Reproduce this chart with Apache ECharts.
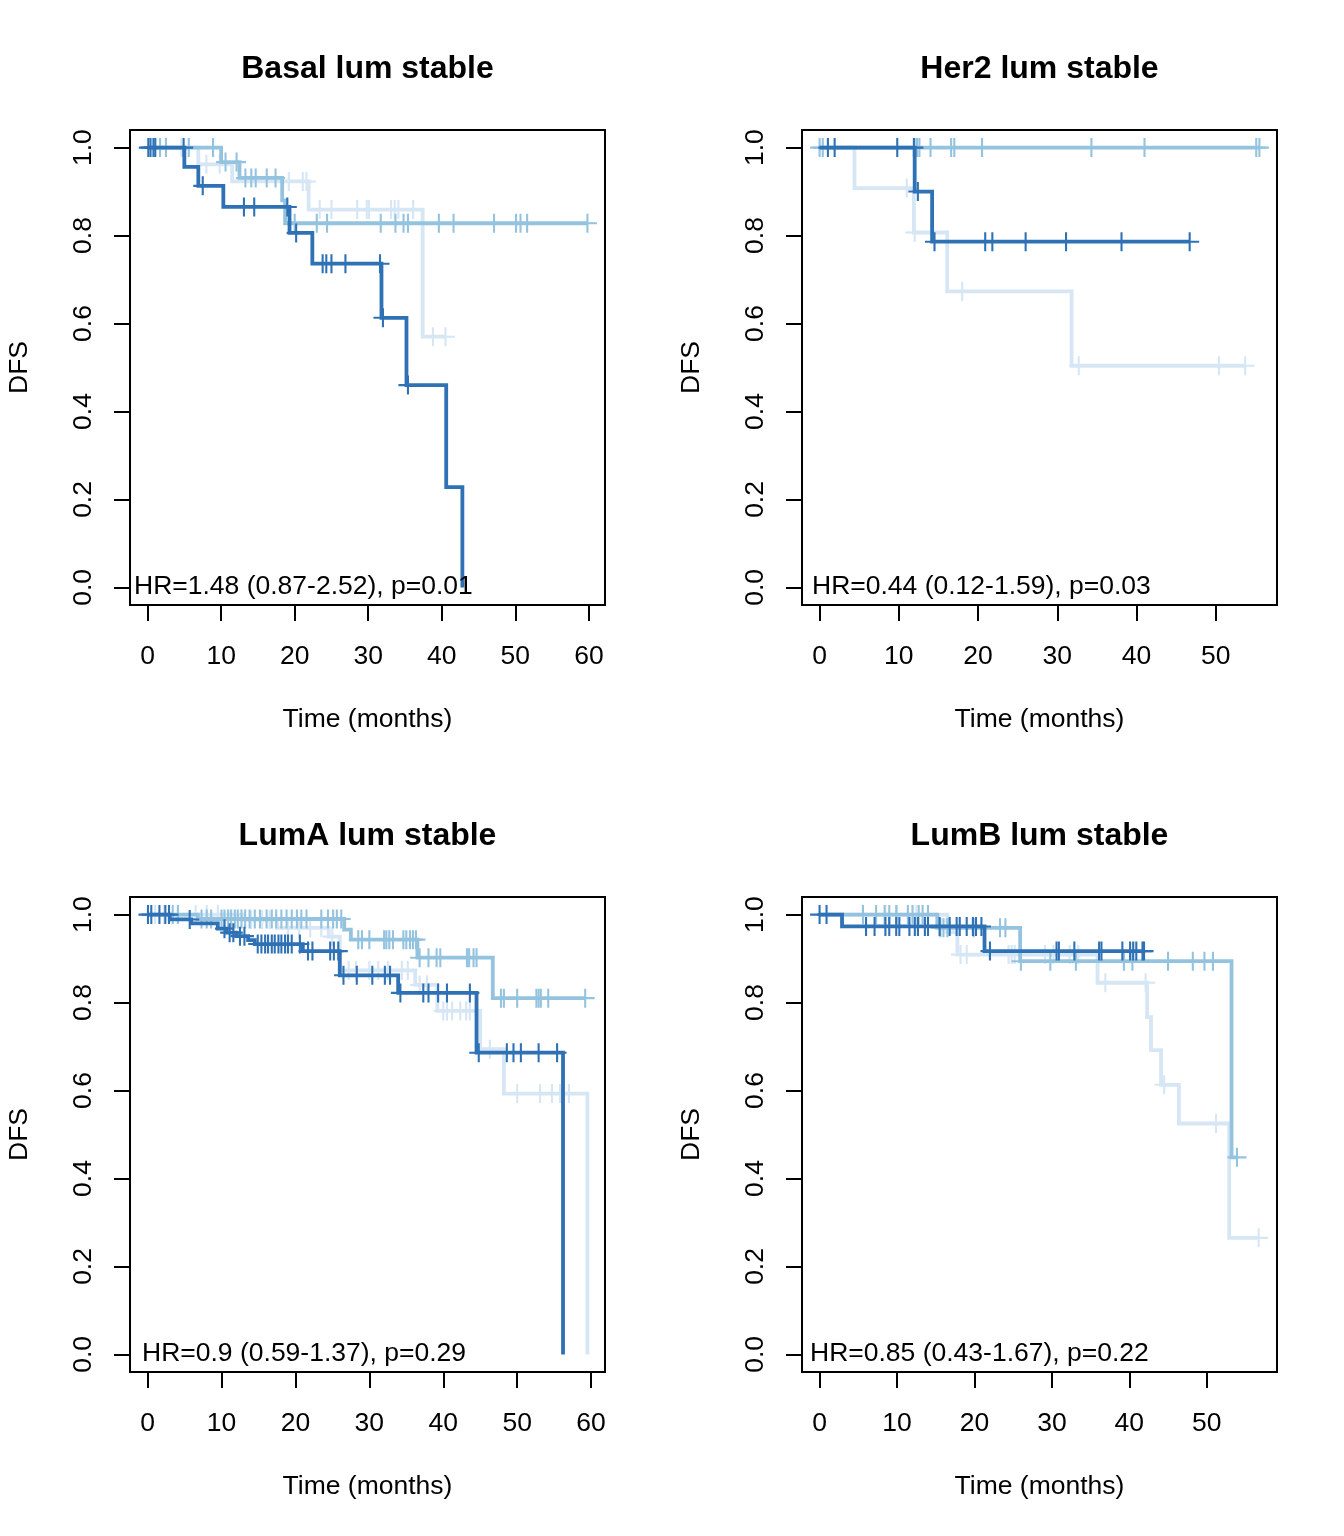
<!DOCTYPE html>
<html>
<head>
<meta charset="utf-8">
<script src="https://cdn.jsdelivr.net/npm/echarts@6/dist/echarts.min.js"></script>
<style>
html,body{margin:0;padding:0;background:#fff;}
#chart{width:1344px;height:1536px;}
</style>
</head>
<body>
<div id="chart"></div>
<script>
// ---------------- DATA ----------------
const panelTitles = ['Basal lum stable', 'Her2 lum stable', 'LumA lum stable', 'LumB lum stable'];
const hrTexts = ['HR=1.48 (0.87-2.52), p=0.01', 'HR=0.44 (0.12-1.59), p=0.03', 'HR=0.9 (0.59-1.37), p=0.29', 'HR=0.85 (0.43-1.67), p=0.22'];
const xTickSets = [[0,10,20,30,40,50,60],[0,10,20,30,40,50],[0,10,20,30,40,50,60],[0,10,20,30,40,50]];
const yTicks = [0, 0.2, 0.4, 0.6, 0.8, 1.0];
const xAxisTitle = 'Time (months)';
const yAxisTitle = 'DFS';

// Basal lum stable: steps = [time, survival after drop]; cens = censoring times
const basalLightSteps = [[6.9,0.962],[11.5,0.923],[21.9,0.859],[37.4,0.570]];
const basalLightCens = [4.6,8.0,9.8,19.2,21.1,21.6,23.4,25.0,28.5,29.8,30.1,33.1,33.6,34.1,36.1,38.8,40.5];
const basalMidSteps = [[10.0,0.967],[12.5,0.931],[18.3,0.880],[18.7,0.828]];
const basalMidCens = [1.7,2.5,5.6,8.9,10.6,12.1,13.3,14.1,14.7,16.2,17.4,20.0,23.0,24.4,31.7,33.7,34.8,35.4,39.6,41.6,47.1,50.1,50.7,51.6,59.8];
const basalDarkSteps = [[5.0,0.956],[6.9,0.913],[10.3,0.865],[19.3,0.806],[22.4,0.736],[31.8,0.613],[35.2,0.460],[40.6,0.228],[42.8,0.0]];
const basalDarkCens = [0.1,0.4,0.8,1.05,4.9,7.5,13.1,14.5,19.0,20.2,23.8,24.3,25.0,26.9,31.6,32.0,35.4];

// Her2 lum stable
const her2LightSteps = [[4.4,0.908],[11.9,0.807],[16.1,0.673],[31.8,0.504]];
const her2LightCens = [11.0,12.0,18.0,32.7,50.4,53.7];
const her2MidSteps = [];
const her2MidCens = [0.0,0.4,12.0,12.3,12.6,14.0,16.6,17.0,20.5,34.3,41.0,55.1,55.5];
const her2DarkSteps = [[12.0,0.900],[14.2,0.786]];
const her2DarkCens = [1.05,1.9,9.8,11.9,12.4,14.5,20.9,21.8,26.0,31.1,38.1,46.7];

// LumA lum stable
const lumaLightSteps = [[13.0,0.988],[17.5,0.970],[24.5,0.950],[26.0,0.873],[36.2,0.840],[39.2,0.781],[45.0,0.694],[48.2,0.593],[59.5,0.0]];
const lumaLightCens = [1.0,2.2,6.5,8.0,9.5,14.0,15.5,16.5,19.0,20.5,22.0,23.5,25.0,27.2,28.2,30.0,31.2,32.5,34.4,35.2,36.8,37.8,40.0,40.5,41.2,42.3,43.1,43.6,46.3,50.0,53.1,54.7,55.8,57.0];
const lumaMidSteps = [[6.8,0.990],[26.6,0.966],[27.5,0.943],[36.5,0.902],[46.7,0.810]];
const lumaMidCens = [3.4,4.1,7.3,8.0,8.6,10.0,10.4,10.9,11.3,11.8,12.2,12.7,13.2,13.8,14.5,15.2,16.1,16.8,17.4,18.1,18.8,19.5,20.2,20.8,21.5,23.5,24.4,25.1,25.6,26.2,28.5,29.0,30.0,32.0,32.3,32.7,33.2,34.6,35.0,35.5,35.9,36.3,36.8,38.0,39.1,39.6,43.2,43.5,44.1,44.5,47.8,48.2,50.0,52.6,52.9,53.2,54.2,59.2];
const lumaDarkSteps = [[3.0,0.989],[5.9,0.980],[9.5,0.968],[10.7,0.959],[12.0,0.951],[13.6,0.942],[14.5,0.933],[21.0,0.917],[26.0,0.862],[33.9,0.822],[44.5,0.686],[56.2,0.0]];
const lumaDarkCens = [0.05,0.5,1.6,2.4,2.9,5.7,10.4,11.1,11.6,12.5,13.1,14.9,15.4,15.9,16.3,16.8,17.2,17.7,18.1,18.6,19.0,19.5,20.6,21.7,22.3,24.7,25.2,25.8,26.5,28.3,30.4,32.1,32.8,34.2,37.3,38.0,39.3,40.5,43.6,44.8,48.6,49.5,50.5,52.9,55.4];

// LumB lum stable
const lumbLightSteps = [[16.5,0.960],[17.8,0.909],[35.9,0.845],[42.3,0.767],[42.8,0.692],[44.1,0.613],[46.4,0.525],[52.9,0.265]];
const lumbLightCens = [8.5,10.0,12.5,18.2,19.0,24.4,24.8,25.2,29.1,30.2,32.3,33.4,36.9,42.1,44.5,51.2,56.7];
const lumbMidSteps = [[15.2,0.970],[25.9,0.894],[53.2,0.448]];
const lumbMidCens = [5.6,7.3,8.4,9.0,9.9,11.4,12.0,12.8,13.3,14.0,15.6,16.0,16.5,19.9,23.3,24.0,26.0,29.8,33.1,39.3,40.4,45.0,48.2,49.7,50.8,53.9];
const lumbDarkSteps = [[2.9,0.973],[21.3,0.917]];
const lumbDarkCens = [0.0,0.9,6.0,7.1,8.5,9.0,9.9,10.3,11.6,12.3,12.7,13.6,14.0,15.5,16.8,17.7,18.1,19.0,19.8,20.2,20.9,22.0,30.6,30.9,32.9,36.1,36.4,39.1,40.1,40.5,40.9,41.7,41.9];

// ---------------- STYLE / LAYOUT ----------------
const colors = ['#D6E6F4', '#94C3DF', '#2F71B5'];
const FONT = '"Liberation Sans", Arial, Helvetica, sans-serif';
const FS = 26.5;
const grids = [
  {left: 130, top: 130, width: 475, height: 475},
  {left: 802, top: 130, width: 475, height: 475},
  {left: 130, top: 897, width: 475, height: 475},
  {left: 802, top: 897, width: 475, height: 475}
];
const xRanges = [[-2.39, 62.19], [-2.22, 57.72], [-2.38, 61.88], [-2.27, 59.07]];
const hrOffsets = [4, 10, 12, 8];

const panelsData = [
  [[basalLightSteps, basalLightCens], [basalMidSteps, basalMidCens], [basalDarkSteps, basalDarkCens]],
  [[her2LightSteps, her2LightCens], [her2MidSteps, her2MidCens], [her2DarkSteps, her2DarkCens]],
  [[lumaLightSteps, lumaLightCens], [lumaMidSteps, lumaMidCens], [lumaDarkSteps, lumaDarkCens]],
  [[lumbLightSteps, lumbLightCens], [lumbMidSteps, lumbMidCens], [lumbDarkSteps, lumbDarkCens]]
];

function survAt(steps, t) {
  let s = 1;
  for (const [te, se] of steps) { if (t >= te) s = se; }
  return s;
}

const plusPath = 'path://M-1,-0.11H1V0.11H-1Z M-0.11,-1H0.11V1H-0.11Z';

const series = [];
const xAxes = [], yAxes = [], titles = [], graphics = [];
panelsData.forEach((curves, p) => {
  const g = grids[p];
  xAxes.push({
    gridIndex: p, type: 'value', min: xRanges[p][0], max: xRanges[p][1], position: 'bottom',
    name: xAxisTitle, nameLocation: 'middle', nameGap: 101,
    nameTextStyle: {fontSize: FS, fontFamily: FONT, color: '#000'},
    axisLine: {show: false, onZero: false}, splitLine: {show: false},
    axisTick: {show: true, inside: false, length: 16, customValues: xTickSets[p], lineStyle: {color: '#000', width: 2}},
    axisLabel: {show: true, customValues: xTickSets[p], margin: 38, fontSize: FS, fontFamily: FONT, color: '#000'}
  });
  yAxes.push({
    gridIndex: p, type: 'value', min: -0.04, max: 1.04, position: 'left',
    name: yAxisTitle, nameLocation: 'middle', nameGap: 97,
    nameTextStyle: {fontSize: FS, fontFamily: FONT, color: '#000'},
    axisLine: {show: false, onZero: false}, splitLine: {show: false},
    axisTick: {show: true, inside: false, length: 16, customValues: yTicks, lineStyle: {color: '#000', width: 2}},
    axisLabel: {show: true, customValues: yTicks, rotate: 90, margin: 33, fontSize: FS, fontFamily: FONT, color: '#000',
      formatter: v => v.toFixed(1)}
  });
  titles.push({
    text: panelTitles[p], left: g.left + g.width / 2, top: g.top - 77, textAlign: 'center', padding: 0,
    textStyle: {fontSize: 32, fontWeight: 'bold', fontFamily: FONT, color: '#000'}
  });
  graphics.push({
    type: 'text', x: g.left + hrOffsets[p], y: g.top + g.height - 18, z: 100,
    style: {text: hrTexts[p], fontSize: FS, fontFamily: FONT, fill: '#000', verticalAlign: 'middle', align: 'left'}
  });
  curves.forEach(([steps, cens], k) => {
    const lastEvent = steps.length ? steps[steps.length - 1][0] : 0;
    const lastCens = cens.length ? Math.max(...cens) : 0;
    const tEnd = Math.max(lastEvent, lastCens);
    const lineData = [[0, 1]];
    steps.forEach(([t, s]) => lineData.push([t, s]));
    lineData.push([tEnd, survAt(steps, tEnd)]);
    series.push({
      type: 'line', xAxisIndex: p, yAxisIndex: p, step: 'end', data: lineData,
      showSymbol: false, symbol: 'none', silent: true,
      lineStyle: {color: colors[k], width: 3.8, cap: 'butt', join: 'miter'},
      z: 2 + k
    });
    series.push({
      type: 'scatter', xAxisIndex: p, yAxisIndex: p, silent: true,
      data: cens.map(t => [t, survAt(steps, t)]),
      symbol: plusPath, symbolSize: 19,
      itemStyle: {color: colors[k], opacity: 1},
      z: 2 + k
    });
  });
});

const chart = echarts.init(document.getElementById('chart'), null, {renderer: 'canvas'});
chart.setOption({
  animation: false,
  backgroundColor: '#fff',
  title: titles,
  grid: grids.map(g => Object.assign({show: true, borderColor: '#000', borderWidth: 2, backgroundColor: 'transparent', containLabel: false}, g)),
  xAxis: xAxes,
  yAxis: yAxes,
  series: series,
  graphic: graphics
});
</script>
</body>
</html>
